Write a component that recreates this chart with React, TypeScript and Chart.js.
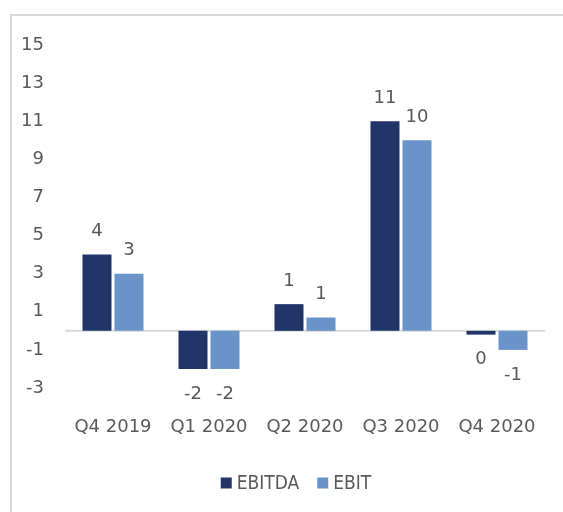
import React, { useEffect, useRef } from "react";
import { Chart, registerables } from "chart.js";

Chart.register(...registerables);

const categories = ["Q4 2019", "Q1 2020", "Q2 2020", "Q3 2020", "Q4 2020"];
const ebitda = [4.0, -2.0, 1.4, 11.0, -0.2];
const ebit = [3.0, -2.0, 0.7, 10.0, -1.0];
const yMin = -3;
const yMax = 15;
const yStep = 2;

const TEXT = "#595959";
const FONT = "'DejaVu Sans', Verdana, sans-serif";
const C1 = "#22356b";
const C2 = "#6a93ca";

const labelsPlugin = {
  id: "customDraw",
  beforeDatasetsDraw(chart: any) {
    const { ctx, chartArea } = chart;
    const y0 = chart.scales.y.getPixelForValue(0);
    ctx.save();
    ctx.strokeStyle = "#d9d9d9";
    ctx.lineWidth = 2;
    ctx.beginPath();
    ctx.moveTo(chartArea.left, y0);
    ctx.lineTo(chartArea.right, y0);
    ctx.stroke();
    ctx.restore();
  },
  afterDatasetsDraw(chart: any) {
    const { ctx } = chart;
    ctx.save();
    ctx.font = `18px ${FONT}`;
    ctx.fillStyle = TEXT;
    ctx.textAlign = "center";
    ctx.textBaseline = "middle";
    chart.data.datasets.forEach((ds: any, i: number) => {
      const meta = chart.getDatasetMeta(i);
      meta.data.forEach((el: any, j: number) => {
        const v = ds.data[j];
        const txt = String(Math.round(v) === 0 ? 0 : Math.round(v));
        const y = v >= 0 ? el.y - 23 : el.y + 25;
        ctx.fillText(txt, el.x, y);
      });
    });
    // legend
    const items = [
      { label: "EBITDA", color: C1 },
      { label: "EBIT", color: C2 },
    ];
    ctx.font = `19px 'DejaVu Sans Condensed', ${FONT}`;
    ctx.textAlign = "left";
    const box = 11;
    const gapBoxText = 5;
    const gapItems = 18;
    const widths = items.map((it) => box + gapBoxText + ctx.measureText(it.label).width);
    const total = widths.reduce((a, b) => a + b, 0) + gapItems * (items.length - 1);
    let x = 296 - total / 2;
    const ly = 483;
    items.forEach((it, k) => {
      ctx.fillStyle = it.color;
      ctx.fillRect(x, ly - box / 2, box, box);
      ctx.fillStyle = TEXT;
      ctx.fillText(it.label, x + box + gapBoxText, ly + 1);
      x += widths[k] + gapItems;
    });
    ctx.restore();
  },
};

export default function App() {
  const ref = useRef<HTMLCanvasElement>(null);
  useEffect(() => {
    if (!ref.current) return;
    const chart = new Chart(ref.current, {
      type: "bar",
      data: {
        labels: categories,
        datasets: [
          { label: "EBITDA", data: ebitda, backgroundColor: C1 },
          { label: "EBIT", data: ebit, backgroundColor: C2 },
        ],
      },
      options: {
        animation: false,
        responsive: false,
        maintainAspectRatio: false,
        devicePixelRatio: 1,
        layout: { padding: { top: 45, right: 18, bottom: 0, left: 0 } },
        datasets: {
          bar: { categoryPercentage: 0.667, barPercentage: 0.906 },
        } as any,
        plugins: {
          legend: { display: false },
          tooltip: { enabled: false },
        },
        scales: {
          x: {
            grid: { display: false, drawTicks: false, tickLength: 0 },
            border: { display: false },
            ticks: { color: TEXT, font: { family: FONT, size: 18 }, padding: 29, maxRotation: 0 },
            afterFit: (s: any) => {
              s.height = 124;
              s.paddingLeft = 0;
              s.paddingRight = 0;
            },
          },
          y: {
            min: yMin,
            max: yMax,
            grid: { display: false, drawTicks: false, tickLength: 0 },
            border: { display: false },
            ticks: { stepSize: yStep, color: TEXT, font: { family: FONT, size: 18 }, padding: 21 },
            afterFit: (s: any) => {
              s.width = 65;
              s.paddingTop = 0;
              s.paddingBottom = 0;
            },
          },
        },
      },
      plugins: [labelsPlugin],
    });
    return () => chart.destroy();
  }, []);
  return (
    <div style={{ position: "fixed", left: 0, top: 0, width: 563, height: 512, overflow: "hidden", background: "#fff" }}>
      <div
        style={{
          position: "absolute",
          left: 10,
          top: 14,
          width: 700,
          height: 700,
          border: "2px solid #d9d9d9",
        }}
      />
      <canvas ref={ref} width={563} height={512} style={{ position: "absolute", left: 0, top: 0, width: 563, height: 512 }} />
    </div>
  );
}
